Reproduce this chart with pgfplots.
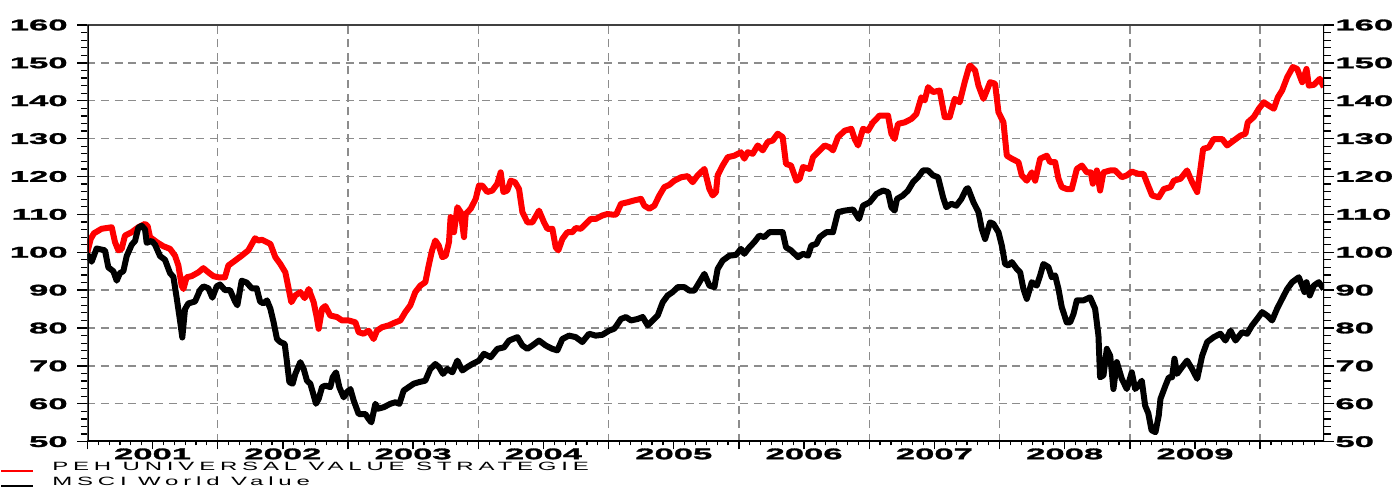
\documentclass[border=0pt]{standalone}
\usepackage{fontspec}
\usepackage{pgfplots}
\pgfplotsset{compat=1.18}
\setmainfont{Liberation Sans}
\newfontfamily\tickfont{Liberation Sans Bold}[FakeStretch=2.25,FakeBold=1.8]
\newfontfamily\legfont{Liberation Sans}[FakeStretch=2.0,LetterSpace=40]
\definecolor{gridgray}{RGB}{140,140,140}
\definecolor{pehred}{RGB}{255,0,0}
\tikzset{gridline/.style={gridgray, line width=0.7pt, line cap=butt, dash pattern=on 4pt off 2.8pt, dash phase=0pt}}

\begin{document}
\begin{tikzpicture}
\path[use as bounding box] (-43.7pt,-22.65pt) rectangle (654.35pt,220.85pt);
\begin{axis}[
  at={(0,0)}, anchor=south west,
  scale only axis, width=618.45pt, height=208.35pt,
  xmin=0, xmax=113.9, ymin=50, ymax=160,
  axis line style={draw=none},
  xtick={0,12,24,36,48,60,72,84,96,108}, xticklabels={},
  minor xtick={1,2,...,11,13,14,...,23,25,26,...,35,37,38,...,47,49,50,...,59,61,62,...,71,73,74,...,83,85,86,...,95,97,98,...,107,109,110,...,113},
  extra x ticks={6,18,30,42,54,66,78,90,102},
  extra x tick labels={2001,2002,2003,2004,2005,2006,2007,2008,2009},
  extra x tick style={major tick length=0pt, grid=none,
     xticklabel style={anchor=north, inner sep=0pt, yshift=-3.2pt}},
  ytick={50,60,...,160}, minor ytick={52,54,56,58,62,64,66,68,72,74,76,78,82,84,86,88,92,94,96,98,102,104,106,108,112,114,116,118,122,124,126,128,132,134,136,138,142,144,146,148,152,154,156,158},
  xtick pos=bottom, ytick pos=left,
  tick align=outside,
  major tick length=5pt, minor tick length=3.2pt,
  x tick style={/pgfplots/major tick length=3.8pt,/pgfplots/minor tick length=1.8pt},
  tick style={black, line width=0.7pt},
  minor tick style={black, line width=0.6pt},
  ymajorgrids,
  major grid style={gridline},
  /pgf/number format/assume math mode=true,
  tick label style={font=\tickfont\fontsize{7.7}{8}\selectfont},
  yticklabel style={anchor=east, inner sep=0pt, xshift=-4.7pt},
  legend style={at={(-0.0707,-0.0487)}, anchor=north west, draw=none, fill=none,
     inner sep=0pt, outer sep=0pt, row sep=2.4pt, column sep=9pt,
     nodes={inner sep=0pt, text height=4.4pt, text depth=0.1pt},
     font=\legfont\fontsize{6}{6}\selectfont},
  legend cell align=left,
  legend image code/.code={\draw[#1, line width=1.2pt] (0pt,-2.3pt) -- (16pt,-2.3pt);},
]
\pgfplotsinvokeforeach{12,24,36,48,60,72,84,96,108}{
  \draw[gridline] (axis cs:#1,50) -- (axis cs:#1,160);
}
\addplot[pehred, line width=3pt, line join=round] coordinates {
(0,100) (0.3,103.5) (0.6,105) (1.31,106.2) (2.24,106.6) (2.54,102.7) (2.85,100.5) (3.16,100.9) (3.46,104.4) (4.08,105.3) (4.69,106.6) (5.31,107.5) (5.55,106.9) (5.77,104.0) (6.38,102.7) (6.99,101.6) (7.61,100.9) (8.07,99.1) (8.38,96.5) (8.68,91.2) (8.84,90.3) (9.14,93.4) (9.60,93.7) (10.22,94.7) (10.68,95.8) (11.14,94.7) (11.60,93.7) (12.06,93.4) (12.67,93.4) (12.98,96.5) (13.60,97.8) (14.21,99.1) (14.82,100.5) (15.44,103.7) (15.74,103.1) (16.08,103.3) (16.85,102.2) (17.31,98.7) (17.77,96.9) (18.23,94.7) (18.54,90.3) (18.78,86.8) (19.15,88.6) (19.61,89.5) (20.01,87.9) (20.38,90.3) (20.84,86.8) (21.15,82.4) (21.30,79.8) (21.61,85.1) (21.91,85.8) (22.37,83.3) (22.99,82.9) (23.45,82.0) (24.06,82.0) (24.68,81.5) (24.98,78.9) (25.44,78.5) (25.90,79.3) (26.36,77.1) (26.67,79.3) (27.13,80.2) (27.75,80.7) (28.36,81.5) (28.82,82.0) (29.28,84.2) (29.74,86.0) (30.20,89.5) (30.66,91.2) (31.12,92.1) (31.43,96.5) (31.74,100.5) (32.04,103.1) (32.35,101.8) (32.69,98.7) (33.0,99.1) (33.3,102.7) (33.45,109.3) (33.76,105.3) (34.07,111.9) (34.38,110.6) (34.68,104.0) (34.84,110.1) (35.30,111.5) (35.76,114.1) (36.06,117.6) (36.37,117.6) (36.83,115.9) (37.29,116.3) (37.75,118.1) (38.06,121.1) (38.31,115.9) (38.67,116.3) (38.98,118.9) (39.38,118.5) (39.75,116.7) (40.06,110.6) (40.52,107.9) (40.98,107.9) (41.59,111.0) (42.05,107.9) (42.36,106.2) (42.82,106.2) (43.13,101.3) (43.37,100.5) (43.74,103.5) (44.20,105.3) (44.66,105.3) (44.97,106.4) (45.43,106.2) (45.89,107.5) (46.35,108.8) (46.81,108.8) (47.42,109.7) (47.88,110.1) (48.50,109.9) (48.70,110.0) (49.14,112.8) (49.75,113.2) (50.37,113.7) (50.98,114.1) (51.29,112.3) (51.75,111.5) (52.21,112.3) (52.67,115.0) (53.13,117.2) (53.59,117.8) (54.05,118.9) (54.67,119.8) (55.28,120.1) (55.74,118.5) (56.20,120.3) (56.82,122.0) (57.28,116.7) (57.58,115.0) (57.89,115.9) (58.04,120.3) (58.50,122.9) (58.97,125.1) (59.58,125.5) (60.19,126.4) (60.50,124.7) (60.81,126.4) (61.27,126.0) (61.73,128.2) (62.19,126.9) (62.65,129.1) (63.11,129.5) (63.57,131.3) (64.03,130.4) (64.34,123.3) (64.80,122.9) (65.29,118.9) (65.59,119.4) (65.90,122.5) (66.52,122.0) (66.82,125.1) (67.44,126.9) (67.90,128.2) (68.36,127.7) (68.66,126.9) (69.12,130.4) (69.74,132.1) (70.35,132.6) (70.66,129.9) (70.97,128.2) (71.43,132.6) (71.89,132.1) (72.35,134.3) (72.96,136.1) (73.73,136.1) (74.04,131.3) (74.34,129.9) (74.65,133.9) (75.27,134.3) (75.88,135.2) (76.34,136.5) (76.80,140.9) (77.11,140.1) (77.42,143.6) (77.88,142.3) (78.49,142.7) (78.95,135.7) (79.41,135.7) (79.87,140.5) (80.33,139.6) (80.79,144.9) (81.19,148.9) (81.30,149.3) (81.75,148.0) (82.06,144.0) (82.52,140.5) (82.83,142.7) (83.13,144.9) (83.59,144.5) (83.90,137.0) (84.36,134.3) (84.67,125.5) (85.13,124.7) (85.74,123.8) (86.05,120.3) (86.51,118.9) (86.97,121.1) (87.28,118.9) (87.74,124.7) (88.35,125.5) (88.66,123.8) (89.12,123.8) (89.43,119.4) (89.73,117.2) (90.19,116.7) (90.65,116.7) (91.12,122.0) (91.58,122.9) (92.04,121.1) (92.40,121.1) (92.59,118.1) (92.96,121.6) (93.26,116.3) (93.57,121.1) (94.19,121.6) (94.65,121.6) (95.26,119.8) (95.72,120.3) (96.18,121.3) (96.79,120.7) (97.26,120.7) (97.56,118.5) (98.05,115.0) (98.66,114.5) (99.13,116.7) (99.74,117.2) (100.05,118.9) (100.66,119.4) (101.27,121.6) (101.73,118.5) (102.20,115.9) (102.50,122.0) (102.75,127.3) (103.27,127.7) (103.73,129.9) (104.50,129.9) (104.96,128.2) (105.57,129.5) (106.19,130.8) (106.65,131.3) (106.86,134.3) (107.41,135.7) (107.88,137.9) (108.34,139.6) (108.80,138.7) (109.26,137.9) (109.63,140.9) (110.02,142.7) (110.49,146.2) (111.01,148.9) (111.41,148.4) (111.87,144.9) (112.27,148.4) (112.48,144.0) (112.94,144.2) (113.50,145.8) (113.86,143.6)
};
\addlegendentry{PEH UNIVERSAL VALUE STRATEGIE}
\addplot[black, line width=3pt, line join=round] coordinates {
(0,99.5) (0.39,97.5) (0.85,101.0) (1.62,100.5) (1.93,96.0) (2.39,95.0) (2.70,92.5) (3.00,94.5) (3.31,95.0) (3.62,99.0) (4.08,102.0) (4.39,103.0) (4.69,106.5) (5.00,107.0) (5.31,106.0) (5.46,102.5) (5.92,103.0) (6.23,102.0) (6.69,99.0) (7.15,98.0) (7.61,94.5) (7.92,93.5) (8.22,88.0) (8.53,82.0) (8.74,77.5) (8.99,85.0) (9.30,86.5) (9.91,87.0) (10.37,90.0) (10.68,91.0) (11.14,90.5) (11.51,88.0) (11.91,91.0) (12.21,91.5) (12.67,90.0) (13.14,90.0) (13.60,87.0) (13.81,86.0) (14.21,92.5) (14.67,92.0) (15.13,90.5) (15.59,90.5) (15.90,87.0) (16.21,86.5) (16.54,87.3) (16.85,85.1) (17.15,81.5) (17.46,77.1) (17.77,76.3) (18.17,75.8) (18.38,71.0) (18.60,65.7) (18.90,65.3) (19.15,67.9) (19.61,71.0) (19.92,69.2) (20.22,66.1) (20.53,65.3) (20.84,62.2) (21.05,60.0) (21.30,61.3) (21.61,64.4) (21.91,64.8) (22.37,64.4) (22.59,67.0) (22.90,68.3) (23.20,64.4) (23.60,61.7) (23.91,63.1) (24.22,63.9) (24.52,60.9) (24.98,57.3) (25.60,57.3) (25.90,56.0) (26.15,55.1) (26.52,60.0) (26.76,58.7) (27.29,59.1) (27.90,60.0) (28.36,60.4) (28.73,60.0) (29.13,63.5) (29.59,64.4) (30.05,65.3) (30.51,65.7) (31.12,66.1) (31.58,69.2) (32.04,70.5) (32.38,69.7) (32.75,67.9) (33.15,69.2) (33.61,68.3) (34.07,71.4) (34.53,68.8) (34.99,69.7) (35.45,70.5) (36.06,71.4) (36.52,73.2) (37.14,72.3) (37.75,74.5) (38.37,74.9) (38.83,76.7) (39.60,77.6) (40.06,75.4) (40.52,74.5) (40.98,75.4) (41.59,76.7) (42.20,75.4) (42.82,74.5) (43.28,74.1) (43.74,77.1) (44.35,78.0) (44.97,77.6) (45.58,76.3) (46.20,78.5) (46.81,78.0) (47.42,78.2) (48.04,79.3) (48.50,79.8) (48.70,80.5) (49.14,82.4) (49.60,82.9) (50.06,82.0) (50.68,82.4) (51.14,82.9) (51.60,80.7) (52.06,82.0) (52.52,83.3) (52.98,86.8) (53.44,88.6) (53.90,89.5) (54.36,90.8) (54.97,90.8) (55.43,89.9) (55.90,89.9) (56.36,92.1) (56.82,94.3) (57.28,91.2) (57.74,90.8) (58.04,95.6) (58.50,97.8) (59.12,99.1) (59.73,99.3) (60.19,100.9) (60.50,99.6) (60.96,101.3) (61.42,102.7) (61.88,104.4) (62.34,104.0) (62.80,105.3) (63.42,105.3) (64.03,105.3) (64.34,101.3) (64.80,100.5) (65.44,98.7) (65.90,99.6) (66.36,99.1) (66.67,101.8) (67.13,102.2) (67.44,104.0) (68.05,105.3) (68.66,105.3) (69.12,110.6) (69.74,111.0) (70.51,111.3) (71.06,108.8) (71.43,112.3) (72.04,113.2) (72.66,115.4) (73.27,116.3) (73.73,115.9) (74.04,111.9) (74.34,111.0) (74.56,114.1) (75.11,115.0) (75.57,116.3) (76.03,118.5) (76.49,119.8) (76.95,121.6) (77.42,121.6) (77.88,120.3) (78.34,119.8) (78.80,114.5) (79.10,111.9) (79.56,112.8) (80.02,112.3) (80.49,114.1) (80.94,116.7) (81.10,116.9) (81.60,113.2) (82.06,110.6) (82.36,106.2) (82.67,103.5) (83.13,107.9) (83.44,107.5) (83.90,105.3) (84.21,101.8) (84.51,96.9) (84.82,96.5) (85.13,97.4) (85.59,95.6) (85.90,94.7) (86.20,90.3) (86.51,87.7) (86.97,92.1) (87.43,91.2) (87.74,93.9) (88.04,96.9) (88.50,96.1) (88.81,93.4) (89.12,93.9) (89.43,90.3) (89.73,85.5) (90.19,81.5) (90.50,81.5) (90.81,83.7) (91.12,87.3) (91.73,87.3) (92.34,88.1) (92.80,85.1) (93.11,78.0) (93.26,67.0) (93.57,67.5) (93.88,74.5) (94.19,72.7) (94.49,63.9) (94.80,71.0) (95.26,66.6) (95.72,63.9) (96.18,68.3) (96.49,63.9) (96.79,64.8) (97.10,66.1) (97.41,59.5) (97.70,57.5) (98.00,53.0) (98.36,52.5) (98.66,56.9) (98.82,61.3) (99.28,64.8) (99.59,67.0) (99.89,67.0) (100.11,71.9) (100.35,67.9) (100.81,69.7) (101.27,71.4) (101.73,69.2) (102.20,66.6) (102.66,72.7) (103.12,76.3) (103.73,77.6) (104.34,78.5) (104.80,76.7) (105.27,79.3) (105.73,76.7) (106.34,78.9) (106.80,78.5) (107.26,80.7) (107.72,82.4) (108.18,84.2) (108.64,83.3) (109.10,82.0) (109.56,85.1) (110.02,87.7) (110.49,90.3) (110.95,92.1) (111.56,93.4) (111.87,91.2) (112.08,89.5) (112.27,92.1) (112.57,88.6) (112.94,91.2) (113.40,92.1) (113.86,90.3)
};
\addlegendentry{MSCI World Value}
\draw[black!75, line width=0.6pt] (rel axis cs:0,1) -- (rel axis cs:1,1);
\draw[black, line width=1.4pt] (rel axis cs:0,0) -- (rel axis cs:1,0);
\draw[black, line width=1.3pt] (rel axis cs:0,0) -- (rel axis cs:0,1);
\end{axis}
\begin{axis}[
  at={(0,0)}, anchor=south west,
  scale only axis, width=618.45pt, height=208.35pt,
  xmin=0, xmax=113.9, ymin=50, ymax=160,
  axis line style={draw=none},
  xtick=\empty,
  ytick={50,60,...,160}, minor ytick={52,54,56,58,62,64,66,68,72,74,76,78,82,84,86,88,92,94,96,98,102,104,106,108,112,114,116,118,122,124,126,128,132,134,136,138,142,144,146,148,152,154,156,158},
  ytick pos=right, yticklabel pos=right,
  tick align=outside,
  major tick length=5pt, minor tick length=3.2pt,
  tick style={black, line width=0.7pt},
  minor tick style={black, line width=0.6pt},
  /pgf/number format/assume math mode=true,
  tick label style={font=\tickfont\fontsize{7.7}{8}\selectfont},
  yticklabel style={anchor=west, inner sep=0pt, xshift=0.4pt},
]
\draw[black, line width=1.1pt] (rel axis cs:1,0) -- (rel axis cs:1,1);
\end{axis}
\end{tikzpicture}
\end{document}
